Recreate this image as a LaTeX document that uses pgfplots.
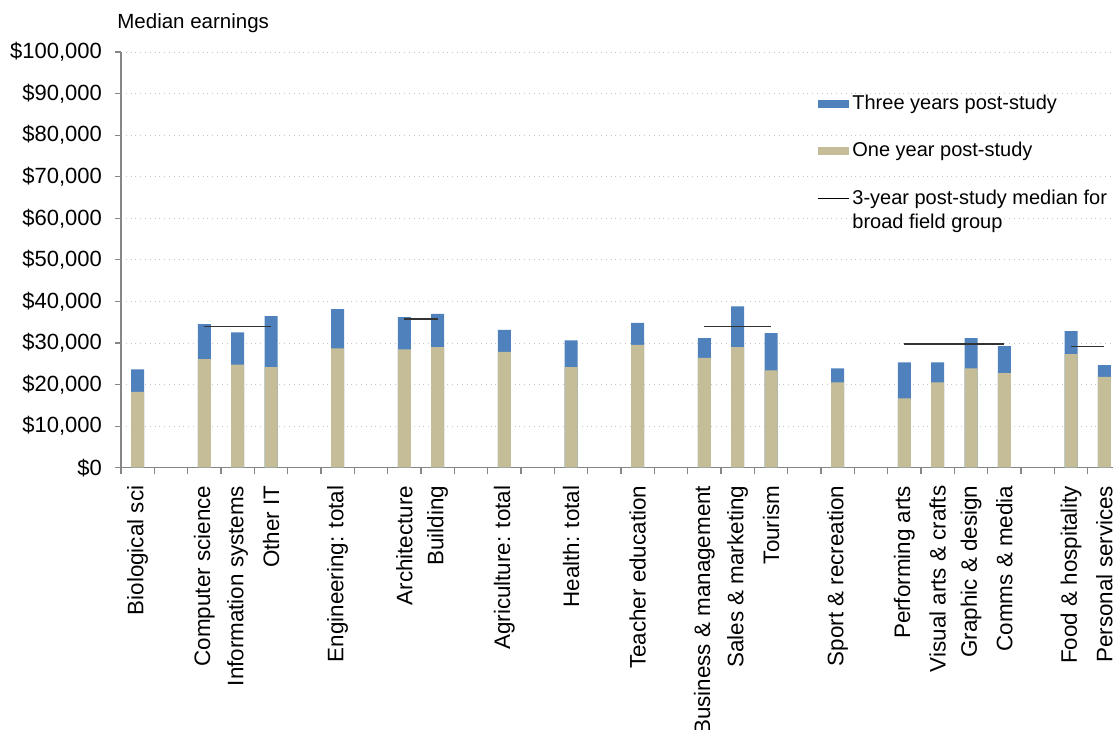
\documentclass[border=0pt]{standalone}
\usepackage{pgfplots}
\pgfplotsset{compat=1.18}
\usepackage{pgfplotstable}
\usepackage{fontspec}
\setmainfont{Liberation Sans}
\definecolor{barblue}{HTML}{4F81BD}
\definecolor{bartan}{HTML}{C4BD97}
\definecolor{axgray}{HTML}{868686}
\pgfplotstableread{
x three one
0 23650 18270
2 34540 26130
3 32540 24770
4 36470 24200
6 38150 28700
8 36230 28460
9 37020 29020
11 33170 27890
13 30620 24200
15 34860 29570
17 31170 26440
18 38790 29020
19 32380 23410
21 23890 20520
23 25330 16680
24 25330 20520
25 31170 23890
26 29250 22760
28 32860 27330
29 24690 21880
}\earnings
\begin{document}
\begin{tikzpicture}
\useasboundingbox (0,0) rectangle (556.5pt,364.5pt);
\begin{axis}[
  at={(60.5pt,130.65pt)}, anchor=south west,
  scale only axis, width=496pt, height=207.85pt,
  xmin=-0.5, xmax=29.26, ymin=0, ymax=100000,
  clip=false,
  scaled y ticks=false,
  axis x line=bottom, axis y line=left,
  axis line style={-, axgray, line width=0.75pt},
  tick align=outside,
  tick style={axgray, line width=0.6pt},
  major tick length=3pt,
  major x tick style={draw=none},
  minor tick length=3.3pt,
  xtick={0,2,3,4,6,8,9,11,13,15,17,18,19,21,23,24,25,26,28,29},
  xticklabels={Biological sci, Computer science, Information systems, Other IT, Engineering: total, Architecture, Building, Agriculture: total, Health: total, Teacher education, Business \& management, Sales \& marketing, Tourism, Sport \& recreation, Performing arts, Visual arts \& crafts, Graphic \& design, Comms \& media, Food \& hospitality, Personal services},
  minor xtick={-0.5,0.5,...,28.5},
  xticklabel style={rotate=90, anchor=east, font=\fontsize{11.2}{13}\selectfont, xshift=-2.5pt},
  ytick={0,10000,...,100000},
  yticklabels={\$0,{\$10,000},{\$20,000},{\$30,000},{\$40,000},{\$50,000},{\$60,000},{\$70,000},{\$80,000},{\$90,000},{\$100,000}},
  yticklabel style={font=\fontsize{11}{13}\selectfont, xshift=-3pt},
  ymajorgrids,
  major grid style={gray!45, dotted, line width=0.4pt},
  legend style={draw=none, fill=none, at={(rel axis cs:0.7016,0.905)}, anchor=north west,
    font=\fontsize{10}{12.3}\selectfont, row sep=12pt, inner sep=0pt,
    nodes={inner sep=1.5pt}},
  legend cell align=left,
]
\addplot[ybar, bar width=6.5pt, bar shift=0pt, fill=barblue, draw=none,
  legend image code/.code={\fill[barblue] (0pt,-2pt) rectangle (15.5pt,2pt);}]
  table[x=x, y=three] {\earnings};
\addlegendentry{Three years post-study}
\addplot[ybar, bar width=6.5pt, bar shift=0pt, fill=bartan, draw=none,
  legend image code/.code={\fill[bartan] (0pt,-2pt) rectangle (15.5pt,2pt);}]
  table[x=x, y=one] {\earnings};
\addlegendentry{One year post-study}
\addplot[black!80, line width=0.7pt, no marks,
  legend image code/.code={\draw[black, line width=0.5pt] (0pt,6.15pt) -- (15.5pt,6.15pt);}]
  coordinates {(2,33900) (4,33900)};
\addlegendentry[align=left]{3-year post-study median for\\broad field group}
\addplot[black!80, line width=0.7pt, no marks, forget plot] coordinates {(8,35820) (9,35820)};
\addplot[black!80, line width=0.7pt, no marks, forget plot] coordinates {(17,33900) (19,33900)};
\addplot[black!80, line width=0.7pt, no marks, forget plot] coordinates {(23,29740) (26,29740)};
\addplot[black!80, line width=0.7pt, no marks, forget plot] coordinates {(28,29090) (29,29090)};
\node[anchor=base west, font=\fontsize{10.25}{12}\selectfont, inner sep=0pt] at ([xshift=-2pt,yshift=12pt]rel axis cs:0,1) {Median earnings};
\end{axis}
\end{tikzpicture}
\end{document}
